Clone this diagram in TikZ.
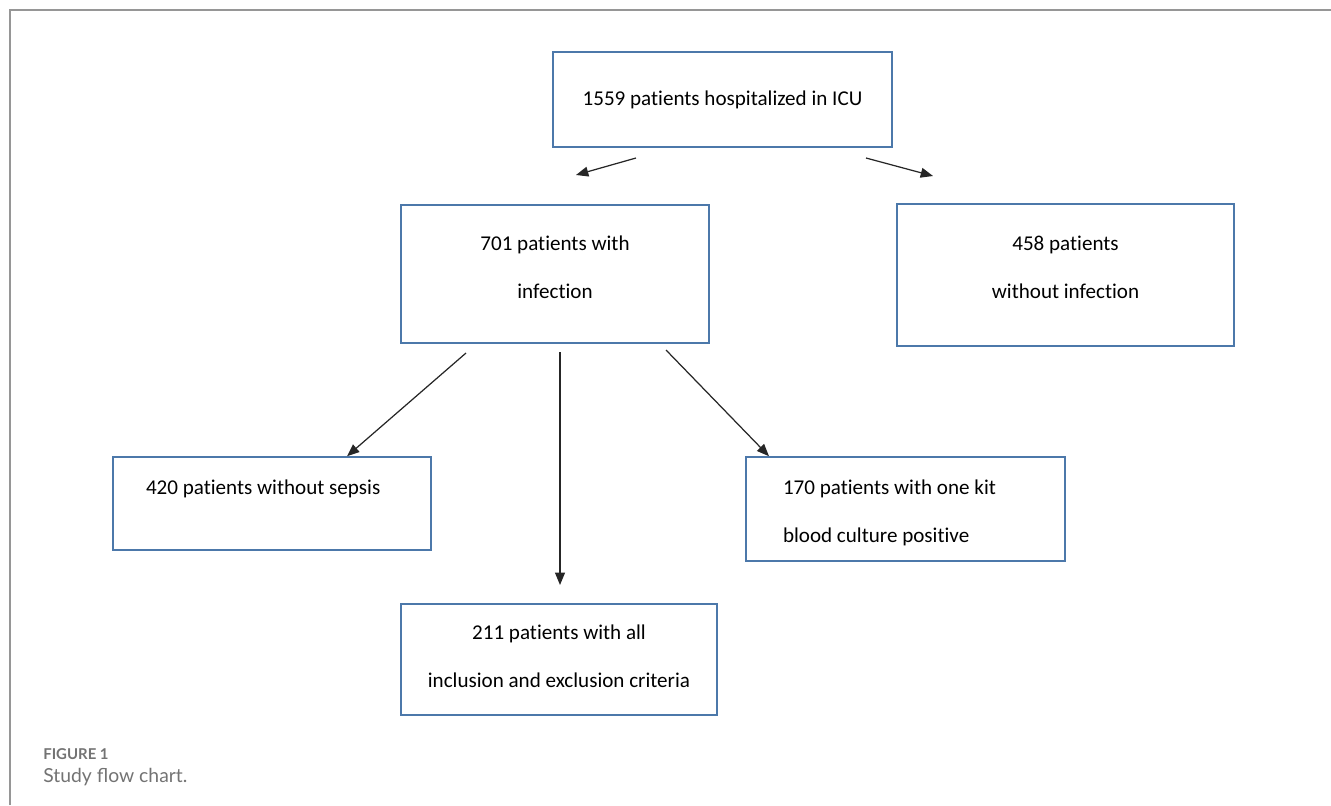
\documentclass[tikz,border=0pt]{standalone}
\usepackage{fontspec}
\setmainfont{Carlito}[Ligatures=NoCommon]
\newfontfamily\capfont{Lato}
\usepackage{tikz}
\usetikzlibrary{arrows.meta}
\definecolor{boxblue}{RGB}{76,120,170}
\definecolor{framegray}{RGB}{150,150,150}
\definecolor{capgray}{RGB}{115,115,115}

\begin{document}
\begin{tikzpicture}[x=0.02cm, y=-0.02cm,
  box/.style={draw=boxblue, line width=0.9pt, inner sep=0pt,
              align=center, font=\fontsize{12}{27.2}\selectfont},
  flow/.style={draw=black!85, line width=0.7pt,
               -{Triangle[length=7pt, width=5.6pt]}},
  caption/.style={anchor=base west, inner sep=0pt, text=capgray}
]
  \useasboundingbox (0,0) rectangle (1331,805);

  %% ── frame ──
  \draw[framegray, line width=1pt] (10,805) -- (10,10) -- (1331,10);

  %% ── boxes ──
  \node[box, minimum width=6.78cm, minimum height=1.9cm]
    (icu) at (722.5,99.5) {1559 patients hospitalized in ICU};
  \node[box, minimum width=6.16cm, minimum height=2.76cm, text depth=8pt]
    (inf) at (555,274) {701 patients with\\infection};
  \node[box, minimum width=6.74cm, minimum height=2.84cm, text depth=9pt]
    (noinf) at (1065.5,275) {458 patients\\without infection};
  \node[box, minimum width=6.36cm, minimum height=1.86cm,
        align=flush left, text width=5.04cm, inner xsep=0.66cm,
        text height=9pt, text depth=19pt]
    (nosep) at (272,503.5) {420 patients without sepsis};
  \node[box, minimum width=6.38cm, minimum height=2.08cm,
        align=flush left, text width=4.9cm, inner xsep=0.74cm,
        text height=12.4pt]
    (kit) at (905.5,509) {170 patients with one kit\\blood culture positive};
  \node[box, minimum width=6.32cm, minimum height=2.22cm, text depth=3.4pt]
    (crit) at (559,659.5) {211 patients with all\\inclusion and exclusion criteria};

  %% ── arrow ends ──
  \coordinate (icuL)  at (636,158);
  \coordinate (icuLe) at (576,175);
  \coordinate (icuR)  at (866,158);
  \coordinate (icuRe) at (933,176);
  \coordinate (infL)  at (466,353);
  \coordinate (infM)  at (560,352);
  \coordinate (infMe) at (560,585);
  \coordinate (infR)  at (666,350);

  %% ── arrows ──
  \draw[flow] (icuL) -- (icuLe);
  \draw[flow] (icuR) -- (icuRe);
  \draw[flow] (infL) -- (nosep.north -| 347,0);
  \draw[flow] (infM) -- (infMe);
  \draw[flow] (infR) -- (kit.north -| 769,0);

  %% ── caption ──
  \node[caption, font=\capfont\bfseries\fontsize{8.5}{10}\selectfont]
    (fig) at (43,759) {FIGURE 1};
  \node[caption, font=\capfont\fontsize{11}{13}\selectfont]
    (cap) at (43,782) {Study flow chart.};
\end{tikzpicture}
\end{document}
